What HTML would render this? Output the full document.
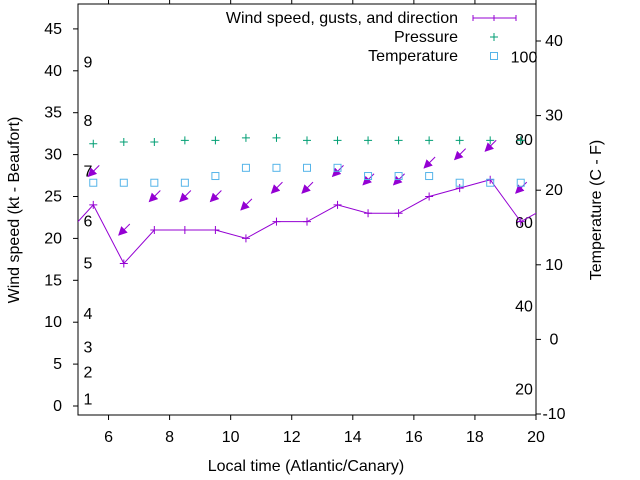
<!DOCTYPE html>
<html><head><meta charset="utf-8"><style>
body{margin:0;background:#fff}
svg{display:block;font-family:"Liberation Sans",sans-serif}
</style></head><body>
<svg id="chart" width="640" height="480" viewBox="0 0 640 480" xmlns="http://www.w3.org/2000/svg">
<defs><marker id="ah" markerWidth="9" markerHeight="9" refX="8" refY="4.5" orient="auto" markerUnits="userSpaceOnUse"><path d="M0,0 L9,4.5 L0,9 Z" fill="#9400d3"/></marker></defs>
<g id="plot"></g>
</svg>
<script>
const hours=[4.5,5.5,6.5,7.5,8.5,9.5,10.5,11.5,12.5,13.5,14.5,15.5,16.5,17.5,18.5,19.5,20.5];
const wind=[20,24,17,21,21,21,20,22,22,24,23,23,25,26,27,22,24];
const obsHours=[5.5,6.5,7.5,8.5,9.5,10.5,11.5,12.5,13.5,14.5,15.5,16.5,17.5,18.5,19.5];
const gusts=[28,21,25,25,25,24,26,26,28,27,27,29,30,31,26];
const pressure=[31.3,31.5,31.5,31.7,31.7,32.0,32.0,31.7,31.7,31.7,31.7,31.7,31.7,31.7,31.7];
const tempC=[21,21,21,21,21.9,23,23,23,23,21.9,21.9,21.9,21,21,21];
const leftTicks=[0,5,10,15,20,25,30,35,40,45];
const rightTicks=[-10,0,10,20,30,40];
const xTicks=[6,8,10,12,14,16,18,20];
const beaufort=[["1",0.8],["2",4],["3",7],["4",11],["5",17],["6",22],["7",28],["8",34],["9",41]];
const fahr=[["20",-6.7],["40",4.4],["60",15.6],["80",26.7],["100",37.8]];
const X0=78,X1=536;
const sx=v=>X0+(v-5)/15*(X1-X0);
const sy=v=>406-v*8.38;
const sr=t=>41+(40-t)*7.46;
const NS="http://www.w3.org/2000/svg";
const g=document.getElementById('plot');
function mk(tag,attrs,parent){const e=document.createElementNS(NS,tag);for(const k in attrs)e.setAttribute(k,attrs[k]);(parent||g).appendChild(e);return e;}
function txt(s,x,y,anchor,name,extra){const e=mk('text',Object.assign({x:x,y:y,'text-anchor':anchor,'font-size':'16',fill:'#000'},extra||{}));e.textContent=s;


return e;}
const cp=mk('clipPath',{id:'cp'});mk('rect',{x:X0,y:4,width:X1-X0,height:411},cp);
const frame=mk('rect',{x:X0,y:4,width:X1-X0,height:411,fill:'none',stroke:'#000','stroke-width':1});


leftTicks.forEach(v=>{mk('line',{x1:73,x2:78,y1:sy(v),y2:sy(v),stroke:'#000'});txt(String(v),62,sy(v)+5,'end','left-tick-label');});
rightTicks.forEach(v=>{mk('line',{x1:536,x2:541,y1:sr(v),y2:sr(v),stroke:'#000'});txt(String(v),554,sr(v)+5,'middle','right-tick-label');});
xTicks.forEach(v=>{mk('line',{x1:sx(v),x2:sx(v),y1:415,y2:420,stroke:'#000'});mk('line',{x1:sx(v),x2:sx(v),y1:0,y2:4,stroke:'#000'});txt(String(v),sx(v),442,'middle','x-tick-label');});
beaufort.forEach(b=>txt(b[0],88,sy(b[1])+5,'middle','beaufort-label'));
fahr.forEach(f=>txt(f[0],524,sr(f[1])+5,'middle','fahrenheit-label'));
txt('Local time (Atlantic/Canary)',306,471,'middle','x-axis-title');
txt('Wind speed (kt - Beaufort)',19,210,'middle','y-axis-title',{transform:'rotate(-90 19 210)'});
txt('Temperature (C - F)',601,210,'middle','y2-axis-title',{transform:'rotate(-90 601 210)'});
const pg=mk('g',{'clip-path':'url(#cp)'});
const line=mk('polyline',{points:hours.map((h,i)=>sx(h)+','+sy(wind[i])).join(' '),fill:'none',stroke:'#9400d3','stroke-width':1},pg);


hours.forEach((h,i)=>{const x=sx(h),y=sy(wind[i]);const p=mk('path',{d:`M${x-4},${y}h8M${x},${y-4}v8`,stroke:'#9400d3'},pg);

});
obsHours.forEach((h,i)=>{const x=sx(h),y=sy(gusts[i]);const a=mk('line',{x1:x+6,y1:y-6,x2:x-5,y2:y+5,stroke:'#9400d3','marker-end':'url(#ah)'},pg);


const px=sx(h),py=sy(pressure[i]);const p=mk('path',{d:`M${px-4},${py}h8M${px},${py-4}v8`,stroke:'#009e73'},pg);


const ty=sr(tempC[i]);const s=mk('rect',{x:px-3.5,y:ty-3.5,width:7,height:7,fill:'none',stroke:'#56b4e9'},pg);

});
txt('Wind speed, gusts, and direction',458,23,'end','legend-wind');
mk('path',{d:'M473,18H516M473,15v6M494,15v6M516,15v6',stroke:'#9400d3'});
txt('Pressure',458,42,'end','legend-pressure');
mk('path',{d:'M490,37h8M494,33v8',stroke:'#009e73'});
txt('Temperature',458,61,'end','legend-temperature');
mk('rect',{x:490.5,y:52.5,width:7,height:7,fill:'none',stroke:'#56b4e9'});
</script>
</body></html>
